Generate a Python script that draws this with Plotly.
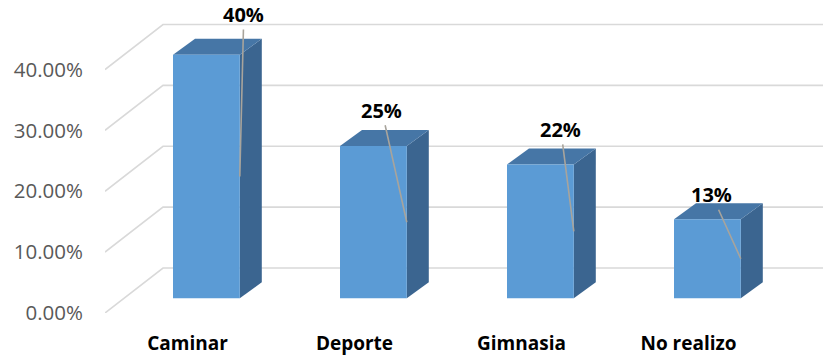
import plotly.graph_objects as go

# Survey results: type of physical activity
categories = ["Caminar", "Deporte", "Gimnasia", "No realizo"]
values = [0.40, 0.25, 0.22, 0.13]
y_ticks = [0.0, 0.1, 0.2, 0.3, 0.4]

# Value-label placement (pixel offsets of the label from its leader anchor)
label_dx = [4, -25, -13, -29]
label_dy = [-162, -112, -102, -64]

# --- pseudo-3D projection set-up (oblique) ---
W, H = 823, 356
M_L, M_B = 105, 43
PX_PER_CAT = 167.0          # horizontal pixels per category step
PX_PER_UNIT = 608.75        # vertical pixels per 1.0 (=100%)
X_MIN = -82.5 / PX_PER_CAT
X_MAX = X_MIN + (W - M_L) / PX_PER_CAT
Y_MAX = (H - M_B) / PX_PER_UNIT


def depth(px_dx, px_dy):
    """Convert a pixel depth offset into data units."""
    return px_dx / PX_PER_CAT, px_dy / PX_PER_UNIT


WALL = depth(58, 45)        # depth of the back wall
BAR_FRONT = depth(18.9, 14.7)
BAR_DEPTH = depth(22, 16)
BAR_W = 0.40

GRID = "#D9D9D9"
FRONT = "#5B9BD5"
TOP = "#4676A6"
SIDE = "#3B6590"

fig = go.Figure()

# gridlines: left-wall diagonals plus back-wall horizontals
gx, gy = [], []
for t in y_ticks:
    gx += [X_MIN, X_MIN + WALL[0], X_MAX, None]
    gy += [t, t + WALL[1], t + WALL[1], None]
fig.add_trace(go.Scatter(x=gx, y=gy, mode="lines",
                         line=dict(color=GRID, width=1.6),
                         hoverinfo="skip", showlegend=False))


def poly(xs, ys, color):
    fig.add_trace(go.Scatter(x=xs + [xs[0]], y=ys + [ys[0]], mode="lines",
                             fill="toself", fillcolor=color,
                             line=dict(width=0, color=color),
                             hoverinfo="skip", showlegend=False))


anchors = []
for i, v in enumerate(values):
    fx, fy = BAR_FRONT
    dx, dy = BAR_DEPTH
    xl = i - BAR_W / 2 + fx
    xr = i + BAR_W / 2 + fx
    y0 = fy
    y1 = v + fy
    # right side face
    poly([xr, xr + dx, xr + dx, xr], [y0, y0 + dy, y1 + dy, y1], SIDE)
    # top face
    poly([xl, xr, xr + dx, xl + dx], [y1, y1, y1 + dy, y1 + dy], TOP)
    # front face
    poly([xl, xr, xr, xl], [y0, y0, y1, y1], FRONT)
    anchors.append((xr, y0 + v / 2))

for (ax_, ay_), v, ddx, ddy in zip(anchors, values, label_dx, label_dy):
    fig.add_annotation(x=ax_, y=ay_, xref="x", yref="y",
                       text=f"<b>{v:.0%}</b>", showarrow=True,
                       arrowhead=0, arrowwidth=1.6, arrowcolor="#A8A49C",
                       ax=ddx, ay=ddy, standoff=0, startstandoff=0,
                       font=dict(family="Open Sans", size=20, color="#000000"))

fig.update_layout(
    width=W, height=H,
    margin=dict(l=M_L, r=0, t=0, b=M_B),
    plot_bgcolor="white", paper_bgcolor="white",
    xaxis=dict(range=[X_MIN, X_MAX], tickmode="array",
               tickvals=list(range(len(categories))),
               ticktext=[f"<b>{c}</b>" for c in categories],
               showgrid=False, zeroline=False, showline=False, ticks="",
               ticklabelstandoff=17,
               tickfont=dict(family="Open Sans", size=19, color="#000000")),
    yaxis=dict(range=[0, Y_MAX], tickmode="array", tickvals=y_ticks,
               tickformat=".2%", showgrid=False, zeroline=False,
               showline=False, ticks="", ticklabelstandoff=21,
               tickfont=dict(family="Open Sans", size=20.5, color="#595959")),
)

fig.write_html("out.html")
